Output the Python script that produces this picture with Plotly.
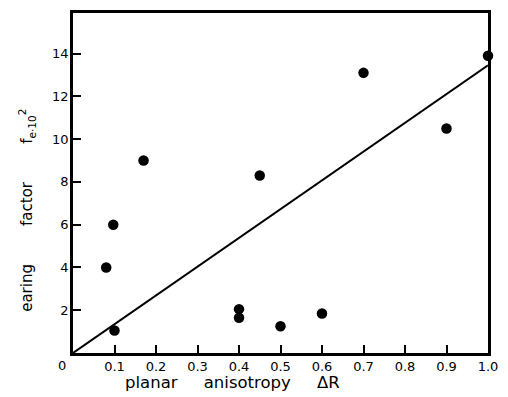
import plotly.graph_objects as go

# Data
anisotropy = [0.08, 0.097, 0.10, 0.17, 0.40, 0.40, 0.45, 0.50, 0.60, 0.70, 0.90, 1.00]
earing = [4.0, 6.0, 1.05, 9.0, 2.05, 1.65, 8.3, 1.25, 1.85, 13.1, 10.5, 13.9]
fit_x = [0.0, 1.0]
fit_y = [0.0, 13.45]
x_ticks = [0.1, 0.2, 0.3, 0.4, 0.5, 0.6, 0.7, 0.8, 0.9, 1.0]
x_tick_text = ["0.1", "0.2", "0.3", "0.4", "0.5", "0.6", "0.7", "0.8", "0.9", "1.0"]
y_ticks = [2, 4, 6, 8, 10, 12, 14]
y_tick_text = ["2", "4", "6", "8", "10", "12", "14"]

FONT = "DejaVu Sans"
NB = "\u00a0"

fig = go.Figure()
fig.add_trace(go.Scatter(x=fit_x, y=fit_y, mode="lines",
                         line=dict(color="black", width=2), showlegend=False,
                         hoverinfo="skip"))
fig.add_trace(go.Scatter(x=anisotropy, y=earing, mode="markers",
                         marker=dict(color="black", size=10.5),
                         cliponaxis=False, showlegend=False))

fig.update_layout(
    width=508, height=397,
    margin=dict(l=73, r=10, t=11, b=44),
    paper_bgcolor="white", plot_bgcolor="white",
    font=dict(family=FONT, color="black", size=13),
    xaxis=dict(range=[0, 1.0], tickvals=x_ticks, ticktext=x_tick_text,
               ticks="inside", ticklen=8, tickwidth=1.5, tickcolor="black",
               showline=True, linewidth=2.5, linecolor="black", mirror=True,
               showgrid=False, zeroline=False, ticklabeloverflow="allow",
               tickfont=dict(family=FONT, size=13, color="black")),
    yaxis=dict(range=[0, 15.9], tickvals=y_ticks, ticktext=y_tick_text,
               ticks="inside", ticklen=8, tickwidth=1.5, tickcolor="black",
               showline=True, linewidth=2.5, linecolor="black", mirror=True,
               showgrid=False, zeroline=False, ticklabelstandoff=-1,
               tickfont=dict(family=FONT, size=13, color="black")),
    annotations=[
        dict(text="0", xref="paper", yref="paper", x=0, y=0, xanchor="right",
             yanchor="top", xshift=-5, yshift=-3, showarrow=False,
             font=dict(family=FONT, size=13, color="black")),
        dict(text="planar" + NB * 5 + "anisotropy" + NB * 5 + "\u0394R",
             xref="paper", yref="paper", x=(236 - 73) / 425, y=0,
             xanchor="center", yanchor="middle", yshift=-29, showarrow=False,
             font=dict(family=FONT, size=16.5, color="black")),
        dict(text="earing" + NB * 8 + "factor" + NB * 8 + "f<sub>e\u00b710</sub><sup>2</sup>",
             xref="paper", yref="paper", x=0, y=(353 - 210) / 342,
             xanchor="center", yanchor="middle", xshift=-46, textangle=-90,
             showarrow=False, font=dict(family=FONT, size=15, color="black")),
    ],
)

fig.write_html("out.html", config={"displayModeBar": False},
               post_script="document.body.style.margin='0px';")
